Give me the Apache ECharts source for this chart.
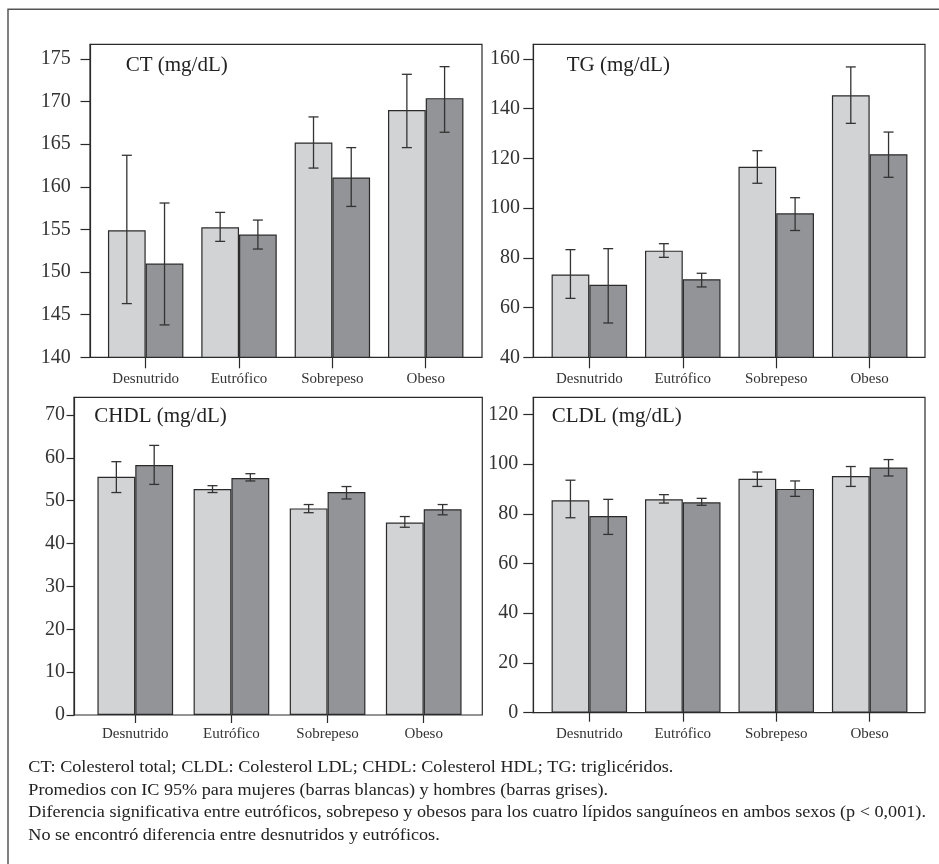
<!DOCTYPE html>
<html><head><meta charset="utf-8">
<script src="https://cdn.jsdelivr.net/npm/echarts@6/dist/echarts.min.js"></script>
<style>html,body{margin:0;padding:0;background:#fff}#c{width:939px;height:864px}</style>
</head><body><div id="c"></div>
<script>
const categories = ['Desnutrido', 'Eutrófico', 'Sobrepeso', 'Obeso'];

const ctWomen = [154.9, 155.25, 165.2, 169.0];
const ctWomenCI = [[146.3, 163.7], [153.6, 157.0], [162.2, 168.2], [164.6, 173.2]];
const ctMen = [151.0, 154.4, 161.1, 170.4];
const ctMenCI = [[143.8, 158.1], [152.7, 156.1], [157.7, 164.6], [166.4, 174.1]];

const tgWomen = [73.3, 82.9, 116.6, 145.4];
const tgWomenCI = [[63.7, 83.3], [80.2, 85.7], [110.0, 123.1], [134.1, 156.8]];
const tgMen = [69.2, 71.4, 97.9, 121.7];
const tgMenCI = [[53.8, 83.7], [68.3, 73.8], [91.0, 104.2], [112.4, 130.6]];

const chdlWomen = [55.6, 52.7, 48.2, 44.9];
const chdlWomenCI = [[51.9, 59.1], [51.9, 53.5], [47.2, 49.1], [43.8, 46.3]];
const chdlMen = [58.3, 55.3, 52.0, 48.0];
const chdlMenCI = [[53.8, 62.9], [54.6, 56.3], [50.4, 53.3], [46.7, 49.1]];

const cldlWomen = [85.4, 85.8, 94.1, 95.2];
const cldlWomenCI = [[78.4, 93.5], [84.3, 87.7], [91.0, 96.8], [91.0, 99.0]];
const cldlMen = [79.1, 84.6, 90.0, 98.6];
const cldlMenCI = [[71.7, 85.8], [83.4, 86.2], [87.0, 93.2], [95.2, 101.8]];

const ctTicks = [140, 145, 150, 155, 160, 165, 170, 175];
const tgTicks = [40, 60, 80, 100, 120, 140, 160];
const chdlTicks = [0, 10, 20, 30, 40, 50, 60, 70];
const cldlTicks = [0, 20, 40, 60, 80, 100, 120];

const panelTitles = ['CT (mg/dL)', 'TG (mg/dL)', 'CHDL (mg/dL)', 'CLDL (mg/dL)'];
const footnotes = [
  'CT: Colesterol total; CLDL: Colesterol LDL; CHDL: Colesterol HDL; TG: triglicéridos.',
  'Promedios con IC 95% para mujeres (barras blancas) y hombres (barras grises).',
  'Diferencia significativa entre eutróficos, sobrepeso y obesos para los cuatro lípidos sanguíneos en ambos sexos (p < 0,001).',
  'No se encontró diferencia entre desnutridos y eutróficos.'
];

const FONT = '"Liberation Serif", "Times New Roman", serif';
const INK = '#2a2a2a';
const LIGHT = '#d2d3d5';
const DARK = '#939498';

const panels = [
  { women: ctWomen, womenCI: ctWomenCI, men: ctMen, menCI: ctMenCI, ticks: ctTicks, min: 140, max: 176.72,
    frame: { left: 90, top: 44.3, width: 392, height: 313 }, dataLeft: 99, dataWidth: 373.4, gap: 0.192,
    yTick: 9.5, yMargin: 19.3, xTick: 11, xMargin: 14.5, titleLeft: 125.7, titleTop: 54.5 },
  { women: tgWomen, womenCI: tgWomenCI, men: tgMen, menCI: tgMenCI, ticks: tgTicks, min: 40, max: 165.9,
    frame: { left: 533.3, top: 44.3, width: 391.7, height: 313 }, dataLeft: 542.6, dataWidth: 373.8, gap: 0.192,
    yTick: 10, yMargin: 13.3, xTick: 11, xMargin: 14.5, titleLeft: 566.7, titleTop: 54.5 },
  { women: chdlWomen, womenCI: chdlWomenCI, men: chdlMen, menCI: chdlMenCI, ticks: chdlTicks, min: 0, max: 74.12,
    frame: { left: 74, top: 397.3, width: 408.3, height: 317.7 }, dataLeft: 87.2, dataWidth: 384.6, gap: 0.213,
    yTick: 7.5, yMargin: 9, xTick: 8, xMargin: 11.5, titleLeft: 94.3, titleTop: 406 },
  { women: cldlWomen, womenCI: cldlWomenCI, men: cldlMen, menCI: cldlMenCI, ticks: cldlTicks, min: 0, max: 126.84,
    frame: { left: 533.3, top: 397.3, width: 391.7, height: 315.4 }, dataLeft: 542.6, dataWidth: 373.8, gap: 0.192,
    yTick: 10, yMargin: 15, xTick: 9, xMargin: 13.5, titleLeft: 551.7, titleTop: 406 }
];

const grid = [], xAxis = [], yAxis = [], series = [], title = [];

function errorSeries(ci, side, axisIdx, gapFrac) {
  return {
    type: 'custom', xAxisIndex: axisIdx, yAxisIndex: axisIdx, z: 10, silent: true,
    data: ci.map((d, i) => [i, d[0], d[1]]),
    encode: { x: 0, y: [1, 2] },
    renderItem(params, api) {
      const i = api.value(0);
      const lo = api.coord([i, api.value(1)]);
      const hi = api.coord([i, api.value(2)]);
      const band = api.size([1, 0])[0];
      const bw = band * (1 - gapFrac) / 2;
      const x = lo[0] + side * bw / 2;
      const cap = 5;
      const st = { stroke: '#333', lineWidth: 1.3 };
      return { type: 'group', children: [
        { type: 'line', shape: { x1: x, y1: lo[1], x2: x, y2: hi[1] }, style: st },
        { type: 'line', shape: { x1: x - cap, y1: hi[1], x2: x + cap, y2: hi[1] }, style: st },
        { type: 'line', shape: { x1: x - cap, y1: lo[1], x2: x + cap, y2: lo[1] }, style: st }
      ] };
    }
  };
}

panels.forEach((p, k) => {
  const fi = 2 * k, di = 2 * k + 1;
  grid.push({ left: p.frame.left, top: p.frame.top, width: p.frame.width, height: p.frame.height,
    show: true, borderColor: INK, borderWidth: 1.2, backgroundColor: 'transparent', containLabel: false });
  grid.push({ left: p.dataLeft, top: p.frame.top, width: p.dataWidth, height: p.frame.height, containLabel: false });

  xAxis.push({ gridIndex: fi, type: 'value', show: false, min: 0, max: 1 });
  yAxis.push({ gridIndex: fi, type: 'value', min: p.min, max: p.max,
    axisLine: { show: true, lineStyle: { color: INK, width: 1.2 } },
    axisTick: { show: true, length: p.yTick, customValues: p.ticks, lineStyle: { color: INK, width: 1.2 } },
    axisLabel: { show: true, customValues: p.ticks, margin: p.yMargin, fontFamily: FONT, fontSize: 20, color: '#333' },
    splitLine: { show: false } });

  xAxis.push({ gridIndex: di, type: 'category', data: categories, boundaryGap: true,
    axisLine: { show: false },
    axisTick: { show: true, alignWithLabel: true, length: p.xTick, lineStyle: { color: INK, width: 1.2 } },
    axisLabel: { show: true, margin: p.xMargin, fontFamily: FONT, fontSize: 15, color: '#333', interval: 0 } });
  yAxis.push({ gridIndex: di, type: 'value', min: p.min, max: p.max, show: false, splitLine: { show: false } });

  const barCommon = { type: 'bar', xAxisIndex: fi + 1, yAxisIndex: fi + 1, barGap: '0%',
    barCategoryGap: (p.gap * 100).toFixed(1) + '%', silent: true };
  series.push(Object.assign({}, barCommon, { name: 'Mujeres', data: p.women,
    itemStyle: { color: LIGHT, borderColor: INK, borderWidth: 1.2 } }));
  series.push(Object.assign({}, barCommon, { name: 'Hombres', data: p.men,
    itemStyle: { color: DARK, borderColor: INK, borderWidth: 1.2 } }));
  series.push(errorSeries(p.womenCI, -1, di, p.gap));
  series.push(errorSeries(p.menCI, 1, di, p.gap));

  title.push({ text: panelTitles[k], left: p.titleLeft, top: p.titleTop, padding: 0,
    textStyle: { fontFamily: FONT, fontSize: 21, fontWeight: 'normal', color: '#222' } });
});

const graphic = [
  { type: 'polyline', shape: { points: [[8, 864], [8, 9.3], [939, 9.3]] },
    style: { stroke: '#555', lineWidth: 1.5, fill: null }, silent: true }
];
const footY = [768, 790.5, 813, 835.5];
footnotes.forEach((t, i) => {
  graphic.push({ type: 'text', x: 28.3, y: footY[i], scaleX: 1.068, silent: true,
    style: { text: t, font: '17px ' + FONT, fill: '#222', verticalAlign: 'middle', align: 'left' } });
});

const chart = echarts.init(document.getElementById('c'), null, { renderer: 'canvas' });
chart.setOption({ animation: false, backgroundColor: '#fff', title, grid, xAxis, yAxis, series, graphic });
</script>
</body></html>
